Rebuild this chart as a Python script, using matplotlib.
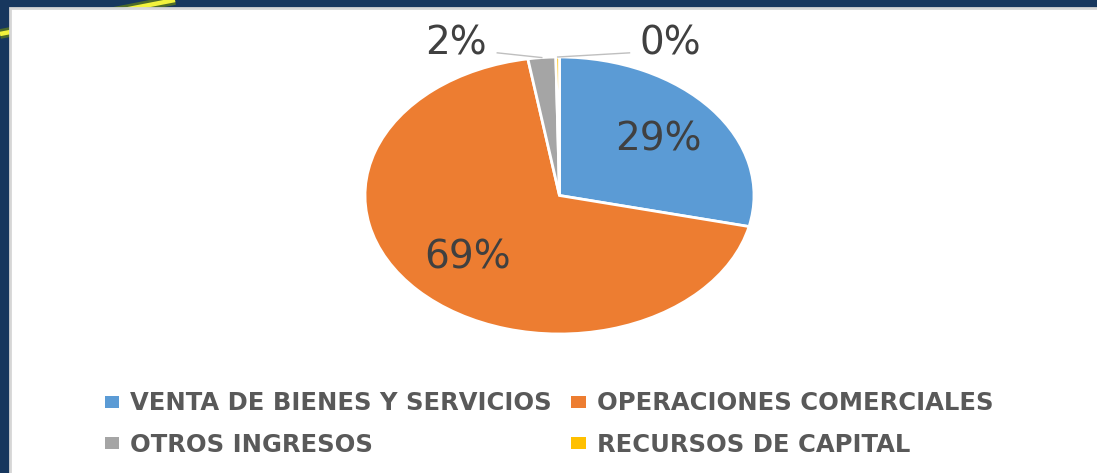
import numpy as np
import matplotlib.pyplot as plt
from matplotlib.patches import Rectangle
from matplotlib.lines import Line2D

# data
categories = ["VENTA DE BIENES Y SERVICIOS", "OPERACIONES COMERCIALES",
              "OTROS INGRESOS", "RECURSOS DE CAPITAL"]
shares = [28.6, 68.8, 2.3, 0.3]
colors = ["#5B9BD5", "#ED7D31", "#A5A5A5", "#FFC000"]

W, H = 1097, 473
fig = plt.figure(figsize=(W / 100, H / 100), dpi=100, facecolor="#17375E")

# slide decoration: yellow swoosh behind the white panel
fig.add_artist(Line2D([0, 175 / W], [1 - 34 / H, 1.0], transform=fig.transFigure,
                      color="#4E6B2A", lw=7, solid_capstyle="butt", zorder=-3))
fig.add_artist(Line2D([0, 175 / W], [1 - 34 / H, 1.0], transform=fig.transFigure,
                      color="#F2F23C", lw=3.2, solid_capstyle="butt", zorder=-2))
fig.add_artist(Rectangle((10 / W, -0.01), 1.0, 1.01 - 8 / H, transform=fig.transFigure,
                         facecolor="white", edgecolor="#D6D6D6", lw=2, zorder=-1))

# pie axes (the original is stretched horizontally, so aspect is left free)
ax = fig.add_axes([365 / W, (H - 334) / H, 389 / W, 277 / H])
ax.patch.set_alpha(0)
wedges, texts, autotexts = ax.pie(
    shares, colors=colors, startangle=90, counterclock=False,
    autopct="%.0f%%", pctdistance=0.65,
    wedgeprops=dict(edgecolor="white", linewidth=2),
    textprops=dict(color="#404040", fontsize=28, family="DejaVu Sans"))
ax.set_aspect("auto")
ax.set_xlim(-1, 1)
ax.set_ylim(-1, 1)

# small slices: labels outside with leader lines
for i, (tx, ty) in [(2, (-0.53, 1.10)), (3, (0.57, 1.10))]:
    w = wedges[i]
    mid = np.deg2rad((w.theta1 + w.theta2) / 2)
    autotexts[i].set_position((tx, ty))
    autotexts[i].set_va("center")
    autotexts[i].set_ha("center")
    x0, y0 = np.cos(mid) * 1.0, np.sin(mid) * 1.0
    x1 = tx + (0.21 if tx < 0 else -0.21)
    ax.plot([x0, x1], [y0, 1.03], color="#BFBFBF", lw=1, clip_on=False)

handles = [wedges[0], wedges[2], wedges[1], wedges[3]]
labels = [categories[0], categories[2], categories[1], categories[3]]
leg = fig.legend(handles, labels, ncol=2, loc="center",
                 bbox_to_anchor=(549 / W, 1 - 424 / H), frameon=False,
                 prop=dict(family="DejaVu Sans", weight="bold", size=17.5),
                 handlelength=0.6, handleheight=0.35, handletextpad=0.45,
                 columnspacing=0.8, labelspacing=0.7, borderpad=0)
for t in leg.get_texts():
    t.set_color("#595959")
for h in leg.legend_handles:
    h.set_edgecolor("none")

fig.savefig("out.png", dpi=100, facecolor=fig.get_facecolor())
